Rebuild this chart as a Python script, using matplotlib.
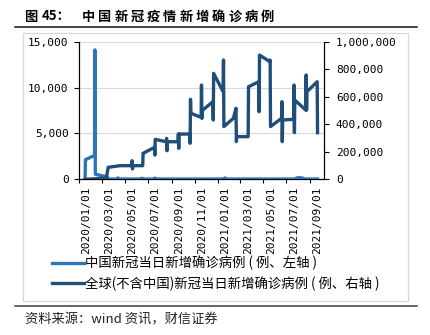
import matplotlib
matplotlib.use("Agg")
import matplotlib.pyplot as plt
import matplotlib.dates as mdates
import matplotlib.transforms as mtransforms
from matplotlib.lines import Line2D
from matplotlib.patches import Rectangle
from matplotlib.ticker import FuncFormatter, MultipleLocator
import pandas as pd

CJK = ["Noto Sans CJK SC", "DejaVu Sans"]
MONO = "DejaVu Sans Mono"

LIGHT = "#2e75b6"
DARK = "#1f4e79"

# 中国新冠当日新增确诊病例（左轴）
cn_dates = ["2020-01-17", "2020-01-18", "2020-02-11", "2020-02-12", "2020-02-13",
            "2020-03-16", "2020-03-18", "2020-04-12", "2020-04-13", "2020-04-14",
            "2020-06-14", "2020-06-15", "2020-06-16", "2020-07-18", "2020-07-19",
            "2020-07-20", "2021-01-19", "2021-01-20", "2021-01-21", "2021-07-24",
            "2021-07-28", "2021-08-05", "2021-08-12", "2021-08-18", "2021-09-21"]
cn_cases = [0, 2140, 2600, 14100, 550,
            250, 30, 30, 150, 30,
            30, 120, 30, 30, 130,
            30, 30, 150, 30, 30,
            150, 170, 140, 30, 30]

# 全球(不含中国)新冠当日新增确诊病例（右轴）
gl_dates = ["2020-01-17", "2020-03-13", "2020-03-18", "2020-04-18",
            "2020-05-19", "2020-05-20", "2020-05-21", "2020-05-22",
            "2020-06-17", "2020-06-18",
            "2020-07-18", "2020-07-19", "2020-07-20",
            "2020-08-18", "2020-08-19", "2020-08-20", "2020-08-21",
            "2020-09-18", "2020-09-19", "2020-09-20", "2020-09-21",
            "2020-10-19", "2020-10-20", "2020-10-21", "2020-10-22",
            "2020-11-18", "2020-11-19", "2020-11-20", "2020-11-21",
            "2020-12-19", "2020-12-20", "2020-12-21",
            "2021-01-15", "2021-01-16", "2021-01-17",
            "2021-02-11", "2021-02-18", "2021-02-19", "2021-02-20",
            "2021-03-22", "2021-03-23",
            "2021-04-19", "2021-04-20", "2021-04-21",
            "2021-05-18", "2021-05-19", "2021-05-20",
            "2021-06-18", "2021-06-19", "2021-06-20", "2021-06-21",
            "2021-07-20", "2021-07-21", "2021-07-22", "2021-07-23",
            "2021-08-21", "2021-08-22", "2021-08-23", "2021-08-24",
            "2021-09-20", "2021-09-21"]
gl_cases = [0, 8000, 87000, 99000,
            99000, 135000, 75000, 99000,
            99000, 189000,
            232000, 176000, 290000,
            273000, 298000, 208000, 273000,
            273000, 329000, 225000, 329000,
            329000, 262000, 581000, 480000,
            450000, 685000, 443000, 500000,
            564000, 431000, 770000,
            637000, 867000, 383000,
            443000, 516000, 274000, 310000,
            310000, 673000,
            709000, 491000, 903000,
            855000, 867000, 383000,
            443000, 564000, 274000, 431000,
            436000, 685000, 339000, 576000,
            503000, 758000, 503000, 637000,
            709000, 339000]

legend_labels = ["中国新冠当日新增确诊病例 ( 例、左轴 )",
                 "全球(不含中国)新冠当日新增确诊病例 ( 例、右轴 )"]

W, H = 430, 335
fig = plt.figure(figsize=(W / 100, H / 100), dpi=100)


def fx(px):
    return px / W


def fy(py):
    return 1 - py / H


# 标题与上下分隔线
fig.text(fx(24), fy(16.5), "图", family=CJK, fontsize=9.5,
         fontweight="bold", va="center", ha="left")
fig.text(fx(42), fy(16.5), "45：", family=CJK, fontsize=9.5,
         fontweight="bold", va="center", ha="left")
for i, ch in enumerate("中国新冠疫情新增确诊病例"):
    fig.text(fx(82 + i * 16.25), fy(16.5), ch, family=CJK, fontsize=9.5,
             fontweight="bold", va="center", ha="left")
fig.add_artist(Line2D([fx(15), fx(417)], [fy(26.7), fy(26.7)],
                      color="#111111", lw=1.1))
fig.add_artist(Line2D([fx(15), fx(417)], [fy(305.7), fy(305.7)],
                      color="#3a3a3a", lw=1.1))
fig.add_artist(Rectangle((fx(23.3), fy(300.7)), fx(408) - fx(23.3),
                         fy(33.3) - fy(300.7), fill=False,
                         edgecolor="#d9d9d9", lw=0.9))
fig.text(fx(25), fy(320), "资料来源：wind 资讯，财信证券", family=CJK,
         fontsize=9.5, va="center", ha="left", color="#222222")

ax = fig.add_axes([fx(79), fy(179.3), fx(324) - fx(79), fy(41.7) - fy(179.3)])
ax2 = ax.twinx()

cn_x = pd.to_datetime(cn_dates)
gl_x = pd.to_datetime(gl_dates)

l1, = ax.plot(cn_x, cn_cases, color=LIGHT, lw=2.4, solid_joinstyle="round",
              zorder=3)
l2, = ax2.plot(gl_x, gl_cases, color=DARK, lw=2.4, solid_joinstyle="round")

ax.set_xlim(pd.Timestamp("2020-01-01"), pd.Timestamp("2021-10-08"))
ax.set_ylim(0, 15000)
ax2.set_ylim(0, 1000000)

ax.yaxis.set_major_locator(MultipleLocator(5000))
ax2.yaxis.set_major_locator(MultipleLocator(200000))
thousands = FuncFormatter(lambda v, _: f"{v:,.0f}")
ax.yaxis.set_major_formatter(thousands)
ax2.yaxis.set_major_formatter(thousands)

ax.xaxis.set_major_locator(mdates.MonthLocator(bymonth=[1, 3, 5, 7, 9, 11]))
ax.xaxis.set_major_formatter(mdates.DateFormatter("%Y/%m/%d"))

ax.grid(axis="y", color="#d9d9d9", lw=0.8)
ax.set_axisbelow(True)

for a in (ax, ax2):
    for s in a.spines.values():
        s.set_visible(False)
ax.spines["left"].set_visible(True)
ax.spines["bottom"].set_visible(True)
ax2.spines["right"].set_visible(True)
for s in (ax.spines["left"], ax.spines["bottom"], ax2.spines["right"]):
    s.set_color("black")
    s.set_linewidth(0.9)

ax.tick_params(axis="y", direction="out", length=3.5, width=0.8, pad=4,
               labelsize=8)
ax2.tick_params(axis="y", direction="out", length=3.5, width=0.8, pad=5,
                labelsize=8)
ax.tick_params(axis="x", direction="out", length=3, width=0.8, pad=2.5,
               labelsize=8, labelrotation=90)

shift = mtransforms.ScaledTranslation(0.075, 0, fig.dpi_scale_trans)
for lab in ax.get_xticklabels():
    lab.set_family(MONO)
    lab.set_transform(lab.get_transform() + shift)
for lab in ax.get_yticklabels() + ax2.get_yticklabels():
    lab.set_family(MONO)

fig.legend([l1, l2], legend_labels, loc="upper left",
           bbox_to_anchor=(fx(52), fy(256)), frameon=False,
           prop={"family": CJK, "size": 9.6}, handlelength=2.4,
           handletextpad=0.1, labelspacing=0.45, borderpad=0,
           borderaxespad=0)

fig.savefig("out.png", dpi=100)
